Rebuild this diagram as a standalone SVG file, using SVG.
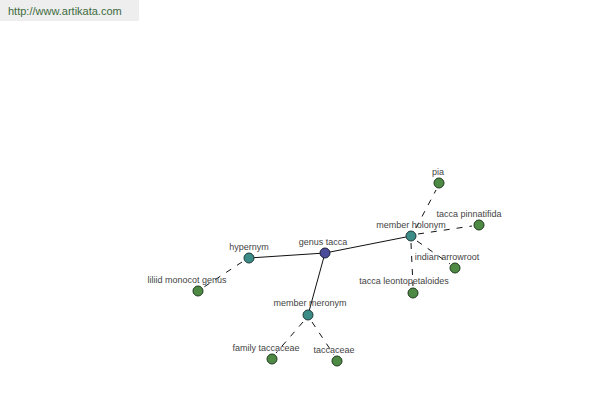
<svg xmlns="http://www.w3.org/2000/svg" width="600" height="400" viewBox="0 0 600 400">
<style>
text{font-family:"Liberation Sans",Arial,sans-serif;font-size:9px;fill:#444;text-anchor:middle}
.solid{stroke:#111;stroke-width:1;fill:none}
.dash{stroke:#111;stroke-width:1;fill:none;stroke-dasharray:6,7}
.leaf{fill:#4f8a45;stroke:#1f3a1f;stroke-width:1}
.mid{fill:#3b8b87;stroke:#1f3a3a;stroke-width:1}
.root{fill:#4a4c9a;stroke:#1f1f3a;stroke-width:1}
</style>
<rect x="0" y="0" width="600" height="400" fill="#fff"/>
<g id="header">
<rect x="0" y="0" width="139" height="21" fill="#eeeeee"/>
<text x="8" y="15" style="text-anchor:start;font-size:11px;fill:#3d6b3d">http://www.artikata.com</text>
</g>
<g id="connectors">
<line class="solid" x1="325" y1="253" x2="249" y2="258"/>
<line class="solid" x1="325" y1="253" x2="411" y2="236"/>
<line class="solid" x1="325" y1="253" x2="308" y2="315"/>
<line class="dash" x1="242" y1="262" x2="204" y2="287"/>
<line class="dash" x1="416" y1="228" x2="436" y2="190"/>
<line class="dash" x1="418" y1="234" x2="472" y2="226"/>
<line class="dash" x1="417" y1="241" x2="450" y2="264"/>
<line class="dash" x1="411" y1="243" x2="413" y2="286"/>
<line class="dash" x1="303" y1="322" x2="276" y2="353"/>
<line class="dash" x1="312" y1="322" x2="334" y2="355"/>
</g>
<g id="genus-tacca"><circle class="root" cx="325" cy="253" r="5"/><text x="323" y="245">genus tacca</text></g>
<g id="hypernym"><circle class="mid" cx="249" cy="258" r="5"/><text x="249" y="250">hypernym</text></g>
<g id="member-holonym"><circle class="mid" cx="411" cy="236" r="5"/><text x="411" y="228">member holonym</text></g>
<g id="member-meronym"><circle class="mid" cx="308" cy="315" r="5"/><text x="310" y="306">member meronym</text></g>
<g id="liliid-monocot-genus"><circle class="leaf" cx="198" cy="291" r="5"/><text x="187" y="283">liliid monocot genus</text></g>
<g id="pia"><circle class="leaf" cx="439" cy="183" r="5"/><text x="438" y="175">pia</text></g>
<g id="tacca-pinnatifida"><circle class="leaf" cx="479" cy="225" r="5"/><text x="469" y="217">tacca pinnatifida</text></g>
<g id="indian-arrowroot"><circle class="leaf" cx="455" cy="268" r="5"/><text x="447" y="260">indian arrowroot</text></g>
<g id="tacca-leontopetaloides"><circle class="leaf" cx="413" cy="293" r="5"/><text x="404" y="284">tacca leontopetaloides</text></g>
<g id="family-taccaceae"><circle class="leaf" cx="272" cy="359" r="5"/><text x="266" y="351">family taccaceae</text></g>
<g id="taccaceae"><circle class="leaf" cx="337" cy="361" r="5"/><text x="334" y="353">taccaceae</text></g>
</svg>
